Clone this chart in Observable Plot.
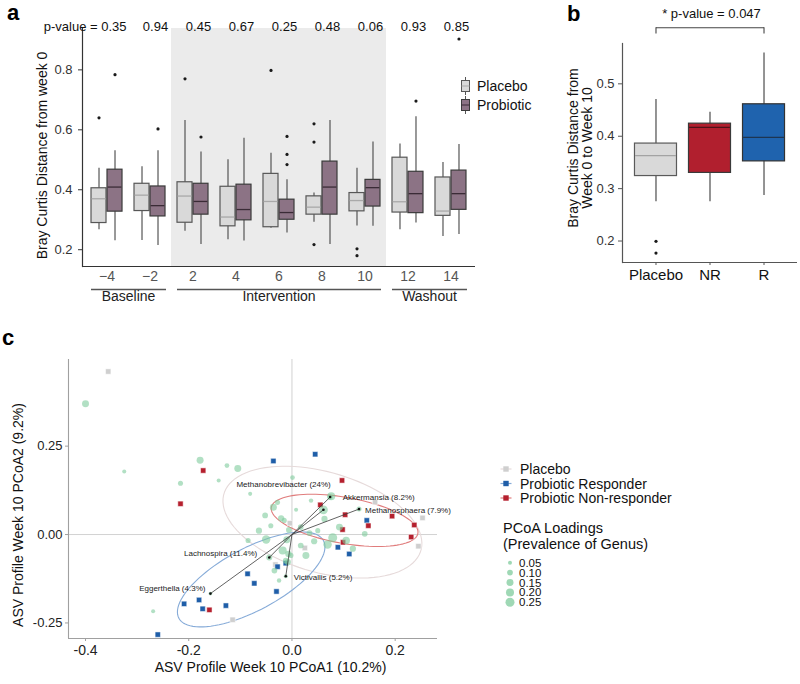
<!DOCTYPE html>
<html><head><meta charset="utf-8">
<script src="https://cdn.jsdelivr.net/npm/d3@7"></script>
<script src="https://cdn.jsdelivr.net/npm/@observablehq/plot@0.6"></script>
<style>
body{margin:0;background:#fff;font-family:"Liberation Sans",Arial,Helvetica,sans-serif;}
#fig{position:relative;width:800px;height:684px;overflow:hidden;background:#fff;}
.letter{position:absolute;font-weight:bold;font-size:22px;color:#000;line-height:1;}
</style></head><body><div id="fig"></div>
<script>
// ================= DATA =================
// ---- Panel a: Bray-Curtis distance from week 0, box summaries ----
const weeks = [-4, -2, 2, 4, 6, 8, 10, 12, 14];
const weekPhase = ["Baseline","Baseline","Intervention","Intervention","Intervention","Intervention","Intervention","Washout","Washout"];
const pValuesA = ["0.35","0.94","0.45","0.67","0.25","0.48","0.06","0.93","0.85"];
const placeboLow  = [0.267, 0.231, 0.262, 0.233, 0.272, 0.292, 0.279, 0.267, 0.244];
const placeboQ1   = [0.289, 0.329, 0.290, 0.278, 0.275, 0.317, 0.328, 0.324, 0.313];
const placeboMed  = [0.370, 0.382, 0.379, 0.309, 0.361, 0.342, 0.364, 0.360, 0.329];
const placeboQ3   = [0.405, 0.420, 0.425, 0.410, 0.453, 0.378, 0.389, 0.507, 0.441];
const placeboHigh = [0.472, 0.477, 0.631, 0.500, 0.522, 0.389, 0.472, 0.553, 0.491];
const probLow  = [0.230, 0.214, 0.217, 0.229, 0.256, 0.217, 0.278, 0.289, 0.251];
const probQ1   = [0.327, 0.311, 0.317, 0.298, 0.300, 0.317, 0.344, 0.322, 0.333];
const probMed  = [0.409, 0.347, 0.361, 0.334, 0.324, 0.409, 0.407, 0.387, 0.387];
const probQ3   = [0.467, 0.411, 0.420, 0.417, 0.367, 0.494, 0.433, 0.460, 0.464];
const probHigh = [0.530, 0.530, 0.526, 0.572, 0.433, 0.631, 0.559, 0.644, 0.551];
const outlierWeek  = [-4, 2, 6, 8, 8, 8, 10, 10, -4, -2, 2, 6, 6, 6, 12, 14];
const outlierGroup = ["Placebo","Placebo","Placebo","Placebo","Placebo","Placebo","Placebo","Placebo",
                      "Probiotic","Probiotic","Probiotic","Probiotic","Probiotic","Probiotic","Probiotic","Probiotic"];
const outlierValue = [0.640, 0.770, 0.798, 0.620, 0.559, 0.217, 0.203, 0.180,
                      0.784, 0.603, 0.576, 0.578, 0.518, 0.484, 0.696, 0.903];

// ---- Panel b: week 0 to week 10 distance by response ----
const bGroups = ["Placebo", "NR", "R"];
const bLow  = [0.275, 0.275, 0.287];
const bQ1   = [0.324, 0.330, 0.352];
const bMed  = [0.363, 0.417, 0.398];
const bQ3   = [0.386, 0.424, 0.461];
const bHigh = [0.470, 0.446, 0.559];
const bOutGroup = ["Placebo", "Placebo"];
const bOutValue = [0.1995, 0.177];
const sigFrom = "Placebo", sigTo = "R", sigLabel = "* p-value = 0.047";

// ---- Panel c: PCoA samples ----
const sampleX = [-0.356, 0.161, 0.253, 0.245, 0.025, -0.032, -0.004, -0.115,
  -0.036, 0.045, -0.209, -0.180, -0.173, -0.128, -0.260, -0.086, -0.073, -0.030, -0.028, -0.012, 0.145, 0.089, 0.111,
  -0.172, -0.216, -0.160, 0.097, 0.055, 0.103, 0.194, 0.148, 0.237, 0.098, 0.231, 0.099];
const sampleY = [0.461, 0.092, 0.047, -0.033, -0.038, -0.085, 0.032, -0.241,
  0.208, 0.227, -0.196, -0.185, -0.210, -0.201, -0.283, -0.111, -0.138, -0.161, -0.091, -0.081, 0.040, -0.036, -0.055,
  0.181, 0.087, -0.213, 0.153, 0.084, 0.056, 0.052, 0.025, 0.027, 0.014, -0.007, -0.022];
const sampleGroup = [
  "Placebo","Placebo","Placebo","Placebo","Placebo","Placebo","Placebo","Placebo",
  "Probiotic Responder","Probiotic Responder","Probiotic Responder","Probiotic Responder","Probiotic Responder",
  "Probiotic Responder","Probiotic Responder","Probiotic Responder","Probiotic Responder","Probiotic Responder",
  "Probiotic Responder","Probiotic Responder","Probiotic Responder","Probiotic Responder","Probiotic Responder",
  "Probiotic Non-responder","Probiotic Non-responder","Probiotic Non-responder","Probiotic Non-responder",
  "Probiotic Non-responder","Probiotic Non-responder","Probiotic Non-responder","Probiotic Non-responder",
  "Probiotic Non-responder","Probiotic Non-responder","Probiotic Non-responder","Probiotic Non-responder"];

// ---- Panel c: genus loadings (prevalence) ----
const loadX = [-0.400, -0.325, -0.178, -0.216, -0.142, -0.126, -0.105, -0.081, 0.001, -0.269, 0.141,
  -0.036, -0.021, 0.008, -0.050, 0.063, 0.092, 0.050, 0.079, 0.069, 0.043, 0.017, 0.034, -0.010, -0.018,
  -0.007, -0.034, -0.008, -0.015, -0.028, -0.006, -0.012, -0.002, -0.064, 0.105, 0.118, 0.017, 0.027,
  -0.041, -0.025, 0.037, -0.052, -0.085, 0.076];
const loadY = [0.370, 0.178, 0.210, 0.145, 0.153, 0.195, 0.187, 0.115, 0.161, -0.217, 0.002,
  0.077, 0.046, 0.070, -0.014, 0.044, 0.021, 0.011, -0.009, -0.028, -0.019, 0.021, 0.004, -0.015, -0.045,
  -0.055, -0.102, -0.078, 0.040, 0.091, 0.013, -0.074, -0.059, 0.011, -0.017, -0.040, -0.031, -0.059,
  0.025, -0.130, 0.096, 0.054, -0.017, 0.108];
const loadPrev = [0.15, 0.05, 0.15, 0.08, 0.05, 0.07, 0.15, 0.05, 0.07, 0.05, 0.10,
  0.15, 0.12, 0.05, 0.22, 0.12, 0.15, 0.08, 0.25, 0.22, 0.12, 0.10, 0.10, 0.15, 0.20,
  0.12, 0.10, 0.12, 0.08, 0.08, 0.10, 0.10, 0.08, 0.12, 0.18, 0.12, 0.10, 0.15,
  0.08, 0.06, 0.06, 0.10, 0.08, 0.20];
const genusNames = ["Methanobrevibacter", "Akkermansia", "Methanosphaera", "Lachnospira", "Eggerthella", "Victivallis"];
const genusPct = ["24%", "8.2%", "7.9%", "11.4%", "4.3%", "5.2%"];
const genusX = [0.061, 0.074, 0.130, -0.044, -0.158, -0.012];
const genusY = [0.070, 0.106, 0.072, -0.065, -0.167, -0.118];

// ---- Panel c: 95% ellipses (centre and semi-axis vectors, data units) ----
const ellGroup = ["Placebo", "Probiotic Responder", "Probiotic Non-responder"];
const ellCx = [0.059, -0.079, 0.102];
const ellCy = [0.035, -0.127, 0.040];
const ellAx = [0.192, 0.140, 0.142];
const ellAy = [-0.047, 0.110, -0.037];
const ellBx = [-0.017, 0.029, -0.008];
const ellBy = [0.151, -0.077, -0.064];

// ================= LAYOUT / STYLE =================
const FONT = '"Liberation Sans", Arial, Helvetica, sans-serif';
const fig = document.getElementById("fig");
function place(node, left, top) {
  node.style.position = "absolute"; node.style.left = left + "px"; node.style.top = top + "px";
  fig.appendChild(node); return node;
}
const baseStyle = {fontFamily: FONT, fontSize: "13px", color: "#222", background: "transparent", overflow: "visible"};

// ================= PANEL A =================
const yA = [0.144, 0.938];
const padOuterA = 0.07;
const A = {width: 540, height: 290, marginLeft: 82, marginRight: 65, marginTop: 28, marginBottom: 24};
const stepA = (A.width - A.marginLeft - A.marginRight) / (weeks.length + 2 * padOuterA);
const boxHalf = 7.5, boxGap = 0.5;
const groupStyleA = {
  Placebo:   {fill: "#d9d9d9", stroke: "#575757", median: "#a9a9a9", dx: -(boxHalf + boxGap),
              insetLeft: stepA / 2 - 2 * boxHalf - boxGap, insetRight: stepA / 2 + boxGap},
  Probiotic: {fill: "#8c7385", stroke: "#3b3b3b", median: "#3a2b36", dx: (boxHalf + boxGap),
              insetLeft: stepA / 2 + boxGap, insetRight: stepA / 2 - 2 * boxHalf - boxGap}
};
const boxRowsA = weeks.flatMap((w, i) => [
  {week: w, group: "Placebo", lo: placeboLow[i], q1: placeboQ1[i], med: placeboMed[i], q3: placeboQ3[i], hi: placeboHigh[i]},
  {week: w, group: "Probiotic", lo: probLow[i], q1: probQ1[i], med: probMed[i], q3: probQ3[i], hi: probHigh[i]}
]);
const outliersA = outlierWeek.map((w, i) => ({week: w, group: outlierGroup[i], v: outlierValue[i]}));
const interventionWeeks = weeks.filter((w, i) => weekPhase[i] === "Intervention");
const fmtWeek = d => d < 0 ? "\u2212" + (-d) : String(d);

const chartA = Plot.plot({
  ...A, style: baseStyle,
  x: {type: "band", domain: weeks, paddingInner: 0, paddingOuter: padOuterA, align: 0.5, round: false, label: null},
  y: {domain: yA, label: null},
  marks: [
    Plot.barY(interventionWeeks, {x: d => d, y1: () => yA[0], y2: () => yA[1], fill: "#ebebeb", shapeRendering: "crispEdges"}),
    ...["Placebo", "Probiotic"].flatMap(g => {
      const s = groupStyleA[g];
      const rows = boxRowsA.filter(r => r.group === g);
      const outs = outliersA.filter(o => o.group === g);
      return [
        Plot.ruleX(rows, {x: "week", y1: "lo", y2: "hi", dx: s.dx, stroke: "#555", strokeWidth: 1.2}),
        Plot.barY(rows, {x: "week", y1: "q1", y2: "q3", fill: s.fill, stroke: s.stroke, strokeWidth: 1.2,
                         insetLeft: s.insetLeft, insetRight: s.insetRight}),
        Plot.tickY(rows, {x: "week", y: "med", stroke: s.median, strokeWidth: 1.3,
                          insetLeft: s.insetLeft + 0.6, insetRight: s.insetRight + 0.6}),
        Plot.dot(outs, {x: "week", y: "v", dx: s.dx, r: 1.6, fill: "#1a1a1a"})
      ];
    }),
    Plot.ruleY([yA[0]], {stroke: "#333", strokeWidth: 1.2}),
    Plot.frame({anchor: "left", stroke: "#333", strokeWidth: 1.2}),
    Plot.axisY({ticks: [0.2, 0.4, 0.6, 0.8], tickFormat: d => d.toFixed(1), tickSize: 4, tickPadding: 6,
                fontSize: 13, stroke: "#333", fill: "#333", label: null}),
    Plot.axisX({tickSize: 0, tickPadding: 5, fontSize: 14, tickFormat: fmtWeek, fill: "#555", label: null}),
    Plot.text(weeks.slice(1), {x: d => d, text: (d, i) => pValuesA[i + 1], frameAnchor: "top", dy: -7, dx: 5.5,
                               fontSize: 13, fill: "#111"}),
    Plot.text(weeks.slice(0, 1), {x: d => d, text: () => "p-value = " + pValuesA[0], frameAnchor: "top",
                                  textAnchor: "end", dy: -7, dx: 19.5, fontSize: 13, fill: "#111"}),
    Plot.text(["Bray Curtis Distance from week 0"], {text: d => d, frameAnchor: "left", textAnchor: "middle",
                                                     rotate: -90, dx: -40, dy: 8, fontSize: 14, fill: "#111"})
  ]
});
place(chartA, 0, 0);

// phase strip under panel a (same horizontal layout as the band scale above)
const phases = ["Baseline", "Intervention", "Washout"];
const phaseRows = phases.map(p => {
  const idx = weekPhase.map((q, i) => q === p ? i : -1).filter(i => i >= 0);
  return {phase: p, start: idx[0], end: idx[idx.length - 1]};
});
const stripA = Plot.plot({
  width: A.width, height: 30, marginLeft: A.marginLeft, marginRight: A.marginRight, marginTop: 0, marginBottom: 12,
  style: baseStyle,
  x: {domain: [-0.5 - padOuterA, weeks.length - 0.5 + padOuterA], axis: null},
  marks: [
    Plot.ruleY(phaseRows, {x1: d => d.start - 0.5, x2: d => d.end + 0.5, y: null, insetLeft: 6, insetRight: 5,
                           stroke: "#555", strokeWidth: 1.3}),
    Plot.text(phaseRows, {x: d => (d.start + d.end) / 2, text: "phase", frameAnchor: "bottom", dy: 2,
                          fontSize: 14, fill: "#222"})
  ]
});
place(stripA, 0, 280);

// legend for panel a
(function () {
  const svg = d3.create("svg").attr("width", 90).attr("height", 45).style("font-family", FONT);
  ["Placebo", "Probiotic"].forEach((g, k) => {
    const s = groupStyleA[g], cy = 16 + 19 * k;
    svg.append("line").attr("x1", 10.5).attr("x2", 10.5).attr("y1", cy - 9).attr("y2", cy + 9).attr("stroke", "#555");
    svg.append("rect").attr("x", 6.5).attr("y", cy - 5.5).attr("width", 8).attr("height", 11)
      .attr("fill", s.fill).attr("stroke", s.stroke);
    svg.append("line").attr("x1", 6.5).attr("x2", 14.5).attr("y1", cy).attr("y2", cy).attr("stroke", s.median);
    svg.append("text").attr("x", 22).attr("y", cy).attr("dominant-baseline", "central")
      .attr("font-size", 14).attr("fill", "#111").text(g);
  });
  place(svg.node(), 455, 70);
})();

// ================= PANEL B =================
const yB = [0.159, 0.577];
const B = {width: 260, height: 290, marginLeft: 82, marginRight: 3, marginTop: 43, marginBottom: 28};
const bStyle = {
  Placebo: {fill: "#d9d9d9", stroke: "#5a5a5a", median: "#a3a3a3"},
  NR:      {fill: "#b11f2e", stroke: "#3a3a3a", median: "#4d1219"},
  R:       {fill: "#1f63ae", stroke: "#333333", median: "#1d3552"}
};
const bRows = bGroups.map((g, i) => ({g, lo: bLow[i], q1: bQ1[i], med: bMed[i], q3: bQ3[i], hi: bHigh[i]}));
const bOut = bOutGroup.map((g, i) => ({g, v: bOutValue[i]}));
const bracketY = 0.607, bracketDrop = 0.012;
const chartB = Plot.plot({
  ...B, style: baseStyle,
  x: {type: "band", domain: bGroups, paddingInner: 0, paddingOuter: 0.12, round: false, label: null},
  y: {domain: yB, label: null},
  marks: [
    ...bGroups.flatMap(g => {
      const s = bStyle[g], rows = bRows.filter(r => r.g === g);
      return [
        Plot.ruleX(rows, {x: "g", y1: "lo", y2: "hi", stroke: "#5a5a5a", strokeWidth: 1.3}),
        Plot.barY(rows, {x: "g", y1: "q1", y2: "q3", fill: s.fill, stroke: s.stroke, strokeWidth: 1.2, insetLeft: 6, insetRight: 6}),
        Plot.tickY(rows, {x: "g", y: "med", stroke: s.median, strokeWidth: 1.3, insetLeft: 6.6, insetRight: 6.6})
      ];
    }),
    Plot.dot(bOut, {x: "g", y: "v", r: 1.6, fill: "#1a1a1a"}),
    Plot.ruleY([yB[0]], {stroke: "#555", strokeWidth: 1.2}),
    Plot.frame({anchor: "left", stroke: "#555", strokeWidth: 1.2}),
    Plot.axisY({ticks: [0.2, 0.3, 0.4, 0.5], tickFormat: d => d.toFixed(1), tickSize: 4, tickPadding: 4,
                fontSize: 13, stroke: "#555", fill: "#333", label: null}),
    Plot.axisX({tickSize: 3, tickPadding: 4, fontSize: 15, stroke: "#555", fill: "#111", label: null}),
    Plot.link([sigLabel], {x1: () => sigFrom, x2: () => sigTo, y1: () => bracketY, y2: () => bracketY, stroke: "#444", strokeWidth: 1.1}),
    Plot.ruleX([sigFrom, sigTo], {x: d => d, y1: () => bracketY, y2: () => bracketY - bracketDrop, stroke: "#444", strokeWidth: 1.1}),
    Plot.text([sigLabel], {x: () => "NR", y: () => bracketY, dy: -14, dx: 1.5, text: d => d, fontSize: 13, fill: "#111"}),
    Plot.text(["Bray Curtis Distance from\nWeek 0 to Week 10"], {text: d => d, frameAnchor: "left", textAnchor: "middle",
              rotate: -90, dx: -42, dy: -5, fontSize: 14, lineHeight: 1.0, fill: "#111"})
  ]
});
place(chartB, 540, 0);

// ================= PANEL C =================
const xC = [-0.433, 0.282], yC = [-0.294, 0.495];
const groupColorC = {"Placebo": "#cfcfcf", "Probiotic Responder": "#1f5ea8", "Probiotic Non-responder": "#b5202e"};
const ellColorC = {"Placebo": "#e6dada", "Probiotic Responder": "#86abd8", "Probiotic Non-responder": "#e07c7c"};
const samples = sampleX.map((x, i) => ({x, y: sampleY[i], group: sampleGroup[i]}));
const loads = loadX.map((x, i) => ({x, y: loadY[i], prev: loadPrev[i]}));
const genus = genusNames.map((g, i) => ({genus: g, pct: genusPct[i], x: genusX[i], y: genusY[i],
                                         prev: parseFloat(genusPct[i]) / 100}));
const ellPts = ellGroup.flatMap((g, k) => d3.range(0, 97).map(j => {
  const t = j / 96 * 2 * Math.PI;
  return {group: g, x: ellCx[k] + Math.cos(t) * ellAx[k] + Math.sin(t) * ellBx[k],
                    y: ellCy[k] + Math.cos(t) * ellAy[k] + Math.sin(t) * ellBy[k]};
}));
const genusLabelLayout = {
  Methanobrevibacter: {textAnchor: "start", dx: -87, dy: -25},
  Akkermansia:        {textAnchor: "start", dx: 12.5, dy: 0},
  Methanosphaera:     {textAnchor: "start", dx: 6, dy: 1},
  Lachnospira:        {textAnchor: "end", dx: -12, dy: -4},
  Eggerthella:        {textAnchor: "end", dx: -5, dy: -5},
  Victivallis:        {textAnchor: "start", dx: 8, dy: 1}
};
const C = {width: 440, height: 394, marginLeft: 68, marginRight: 3, marginTop: 69, marginBottom: 46};
const chartC = Plot.plot({
  ...C, style: baseStyle,
  x: {domain: xC, label: null},
  y: {domain: yC, label: null},
  r: {type: "sqrt", domain: [0, 0.25], range: [0, 4.5]},
  marks: [
    Plot.ruleX([0], {stroke: "#d2d2d2"}),
    Plot.ruleY([0], {stroke: "#d2d2d2"}),
    ...ellGroup.map(g => Plot.line(ellPts.filter(p => p.group === g), {x: "x", y: "y", stroke: ellColorC[g], strokeWidth: 1.1})),
    Plot.ruleX([xC[0]], {stroke: "#a0a0a0", strokeWidth: 1.1}),
    Plot.ruleY([yC[0]], {stroke: "#a0a0a0", strokeWidth: 1.1}),
    ...ellGroup.map(g => Plot.dot(samples.filter(s => s.group === g),
                  {x: "x", y: "y", symbol: "square", r: 3, fill: groupColorC[g], stroke: "#fff", strokeWidth: 0.5})),
    Plot.dot(loads.concat(genus), {x: "x", y: "y", r: "prev", fill: "#7fcb9c", fillOpacity: 0.6}),
    Plot.link(genus, {x1: () => 0, y1: () => 0, x2: "x", y2: "y", stroke: "#3a3a3a", strokeWidth: 0.8}),
    Plot.dot(genus, {x: "x", y: "y", r: 1.3, fill: "#111"}),
    ...genus.map(g => Plot.text([g], {x: "x", y: "y", text: d => d.genus + " (" + d.pct + ")",
                  ...genusLabelLayout[g.genus], fontSize: 8, fill: "#222", ariaLabel: "genus-label"})),
    Plot.axisX({ticks: [-0.4, -0.2, 0, 0.2], tickFormat: d => d.toFixed(1), tickSize: 3, tickPadding: 4,
                fontSize: 14, stroke: "#a0a0a0", fill: "#222", label: null}),
    Plot.axisY({ticks: [-0.25, 0, 0.25], tickFormat: d => d.toFixed(2), tickSize: 3, tickPadding: 3,
                fontSize: 13, stroke: "#a0a0a0", fill: "#222", label: null}),
    Plot.text(["ASV Profile Week 10 PCoA1 (10.2%)"], {text: d => d, frameAnchor: "bottom", textAnchor: "middle",
              dy: 33, dx: 17.5, fontSize: 14, fill: "#111"}),
    Plot.text(["ASV Profile Week 10 PCoA2 (9.2%)"], {text: d => d, frameAnchor: "left", textAnchor: "middle",
              rotate: -90, dx: -50, dy: 16, fontSize: 14, fill: "#111"})
  ]
});
// genus names italic, percentage upright
d3.select(chartC).selectAll('g[aria-label="genus-label"] text').each(function () {
  const full = this.textContent, k = full.indexOf(" (");
  const t = d3.select(this); t.text(null);
  t.append("tspan").attr("font-style", "italic").text(full.slice(0, k));
  t.append("tspan").text(full.slice(k));
});
place(chartC, 0, 290);

// legend for panel c
(function () {
  const svg = d3.create("svg").attr("width", 305).attr("height", 160).style("font-family", FONT);
  ellGroup.forEach((g, k) => {
    const cy = 14 + 14.5 * k;
    svg.append("line").attr("x1", 5.5).attr("x2", 16.5).attr("y1", cy).attr("y2", cy).attr("stroke", ellColorC[g]).attr("stroke-width", 1.2);
    svg.append("rect").attr("x", 8.3).attr("y", cy - 2.7).attr("width", 5.4).attr("height", 5.4).attr("fill", groupColorC[g]);
    svg.append("text").attr("x", 25).attr("y", cy).attr("dominant-baseline", "central").attr("font-size", 14).attr("fill", "#111").text(g);
  });
  svg.append("text").attr("x", 8).attr("y", 73).attr("dominant-baseline", "central").attr("font-size", 14.5).attr("fill", "#111").text("PCoA Loadings");
  svg.append("text").attr("x", 8).attr("y", 89).attr("dominant-baseline", "central").attr("font-size", 14.5).attr("fill", "#111").text("(Prevalence of Genus)");
  const rS = d3.scaleSqrt().domain([0, 0.25]).range([0, 4.5]);
  [0.05, 0.10, 0.15, 0.20, 0.25].forEach((v, k) => {
    const cy = 107.7 + 9.9 * k;
    svg.append("circle").attr("cx", 15).attr("cy", cy).attr("r", rS(v)).attr("fill", "#7fcb9c").attr("fill-opacity", 0.75);
    svg.append("text").attr("x", 24).attr("y", cy).attr("dominant-baseline", "central").attr("font-size", 11.5).attr("fill", "#111").text(v.toFixed(2));
  });
  place(svg.node(), 495, 455);
})();

// panel letters
[["a", 7, 2], ["b", 567, 3], ["c", 2, 327]].forEach(([t, x, y]) => {
  const d = document.createElement("div"); d.className = "letter"; d.textContent = t;
  place(d, x, y);
});
</script></body></html>
